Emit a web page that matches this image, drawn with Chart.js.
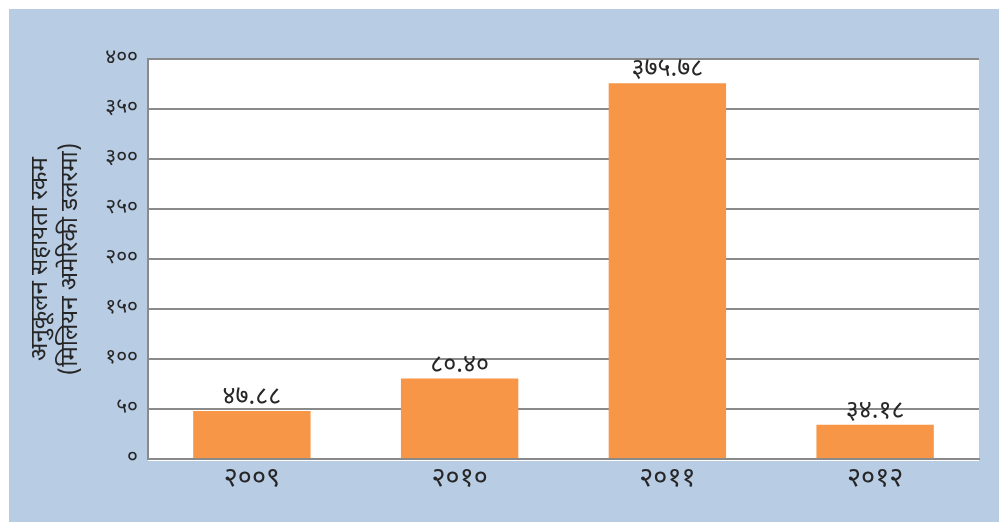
<!DOCTYPE html>
<html><head><meta charset="utf-8">
<script src="https://cdn.jsdelivr.net/npm/chart.js@4/dist/chart.umd.min.js"></script>
<style>html,body{margin:0;padding:0;background:#fff;}#wrap{width:999px;height:522px;position:relative;}</style>
</head><body><div id="wrap"><canvas id="c" width="999" height="522"></canvas></div>
<script>
const categories = ['२००९', '२०१०', '२०११', '२०१२'];
const values = [47.88, 80.40, 375.78, 34.18];
const valueLabels = ['४७.८८', '८०.४०', '३७५.७८', '३४.१८'];
const yTickLabels = {0:'०',50:'५०',100:'१००',150:'१५०',200:'२००',250:'२५०',300:'३००',350:'३५०',400:'४००'};
const yTitle = ['अनुकूलन सहायता रकम', '(मिलियन अमेरिकी डलरमा)'];

const FONT = '"Noto Sans Devanagari", "Noto Sans", "DejaVu Sans", sans-serif';

const bgPlugin = {
  id: 'bg',
  beforeDraw(chart) {
    const {ctx, chartArea: a} = chart;
    ctx.save();
    ctx.fillStyle = '#b8cce4';
    ctx.fillRect(9, 9, chart.width - 9, chart.height - 9);
    ctx.fillStyle = '#ffffff';
    ctx.fillRect(a.left, a.top, a.right - a.left, a.bottom - a.top + 2);
    ctx.restore();
  }
};
const labelPlugin = {
  id: 'vlabels',
  afterDatasetsDraw(chart) {
    const {ctx} = chart;
    const meta = chart.getDatasetMeta(0);
    ctx.save();
    ctx.font = '25px ' + FONT;
    ctx.fillStyle = '#262626';
    ctx.textAlign = 'center';
    ctx.textBaseline = 'bottom';
    meta.data.forEach((bar, i) => {
      ctx.fillText(valueLabels[i], bar.x, bar.y + 1);
    });
    ctx.restore();
  }
};

new Chart(document.getElementById('c'), {
  type: 'bar',
  data: {
    labels: categories,
    datasets: [{
      data: values,
      backgroundColor: '#f79646',
      borderWidth: 0,
      categoryPercentage: 1,
      barPercentage: 0.565
    }]
  },
  plugins: [bgPlugin, labelPlugin],
  options: {
    responsive: false,
    animation: false,
    devicePixelRatio: 1,
    layout: { padding: { left: 9, top: 59, right: 20, bottom: 0 } },
    plugins: { legend: { display: false }, tooltip: { enabled: false } },
    scales: {
      x: {
        grid: { display: false, drawTicks: false },
        border: { display: true, color: '#8a8a8a', width: 2 },
        ticks: { color: '#262626', font: { family: FONT, size: 27 }, padding: 6 },
        afterFit(s) { s.height = 63; }
      },
      y: {
        min: 0, max: 400,
        grid: { color: '#8a8a8a', lineWidth: 2, drawTicks: false },
        border: { display: true, color: '#8a8a8a', width: 2 },
        ticks: {
          stepSize: 50, color: '#262626', padding: 10,
          font: { family: FONT, size: 21 },
          callback: v => yTickLabels[v]
        },
        title: {
          display: true, text: yTitle, color: '#262626',
          font: { family: FONT, size: 24, lineHeight: 1.25 },
          padding: { top: 19, bottom: 0 }
        },
        afterFit(s) { s.width = 139; }
      }
    }
  }
});
</script></body></html>
